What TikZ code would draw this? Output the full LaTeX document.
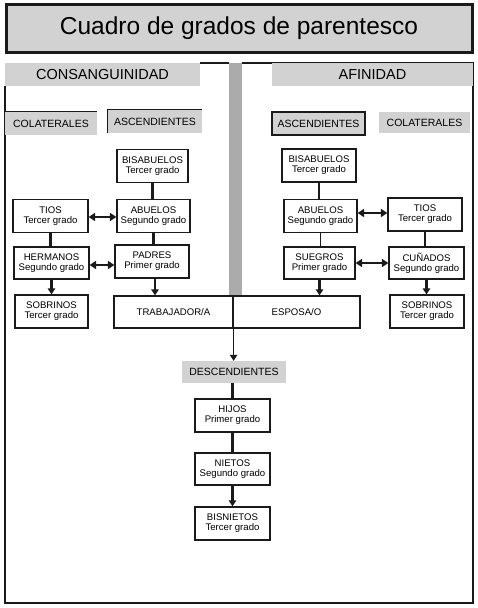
\documentclass[tikz,border=0pt]{standalone}
\usepackage{fontspec}
\setmainfont{Liberation Sans}
\usetikzlibrary{arrows.meta}
\definecolor{gris}{HTML}{D2D2D2}
\definecolor{grisbarra}{HTML}{ABABAB}
\definecolor{borde}{HTML}{1A1A1A}
\tikzset{
  caja/.style={draw=borde, line width=1.2pt, fill=white, minimum width=#1,
    minimum height=33pt, inner sep=1pt, align=center,
    font=\fontsize{9.6}{10}\selectfont},
  caja/.default=74pt,
  cabecera/.style={fill=gris, inner sep=0pt, font=\fontsize{10.5}{12}\selectfont},
  enlace/.style={draw=borde, line width=2.6pt},
  fino/.style={draw=borde, line width=1.3pt},
  punta/.style={-{Triangle[length=6pt,width=7.5pt]}},
  flecha/.style={enlace, punta},
  doble/.style={enlace, {Triangle[length=6.5pt,width=8pt]}-{Triangle[length=6.5pt,width=8pt]}},
}

\begin{document}
\begin{tikzpicture}[x=1pt, y=-1pt]
\useasboundingbox (0,0) rectangle (477,608);

% titulo
\node[draw=borde, line width=3pt, fill=gris, minimum width=466pt, minimum height=48pt,
  font=\fontsize{24.5}{28}\selectfont] (titulo) at (239,28) {Cuadro de grados de parentesco};

% marco y barra central
\fill[grisbarra] (229,63) rectangle (242,296);
\draw[draw=borde, line width=1.6pt] (200,63) -- (229,63);
\draw[draw=borde, line width=1.6pt] (242,63) -- (473,63) -- (473,603) -- (5,603) -- (5,86);

% cabeceras
\node[cabecera, minimum width=195pt, minimum height=23pt, font=\fontsize{14.5}{16}\selectfont]
  (consang) at (102.5,74.5) {CONSANGUINIDAD};
\node[cabecera, minimum width=201pt, minimum height=23pt, font=\fontsize{14.5}{16}\selectfont]
  (afin) at (372.5,74.5) {AFINIDAD};
\node[cabecera, minimum width=92pt, minimum height=23pt] (colL) at (51,123.5) {COLATERALES};
\node[cabecera, minimum width=94pt, minimum height=23pt] (ascL) at (155,121.5) {ASCENDIENTES};
\node[cabecera, minimum width=93pt, minimum height=23pt, draw=borde, line width=1.3pt]
  (ascR) at (318.5,123.5) {ASCENDIENTES};
\node[cabecera, minimum width=91pt, minimum height=21pt] (colR) at (424.5,122.5) {COLATERALES};
\draw[fino] (colL.north west) -- (colL.north east);
\draw[fino] (ascL.south west) -- (ascL.north west) -- (ascL.north east);

% consanguinidad
\node[caja=71pt] (bisL) at (152.5,166) {BISABUELOS\\Tercer grado};
\node[caja=73pt] (abuL) at (153.5,216) {ABUELOS\\Segundo grado};
\node[caja=75pt] (tiosL) at (50.5,216) {TIOS\\Tercer grado};
\node[caja=75pt, minimum height=32pt] (herm) at (51.5,263) {HERMANOS\\Segundo grado};
\node[caja] (padres) at (152,261.5) {PADRES\\Primer grado};
\node[caja=73pt] (sobL) at (51.5,311.5) {SOBRINOS\\Tercer grado};

% afinidad
\node[caja] (bisR) at (319,165.5) {BISABUELOS\\Tercer grado};
\node[caja=73pt] (abuR) at (320.5,216) {ABUELOS\\Segundo grado};
\node[caja] (tiosR) at (425,214.5) {TIOS\\Tercer grado};
\node[caja=71pt, minimum height=32pt] (suegros) at (319.5,263) {SUEGROS\\Primer grado};
\node[caja=75pt, minimum height=32pt] (cun) at (426.5,263) {CUÑADOS\\Segundo grado};
\node[caja] (sobR) at (427,311.5) {SOBRINOS\\Tercer grado};

% trabajador y conyuge
\node[caja=119pt, minimum height=32pt] (trab) at (173.5,312) {TRABAJADOR/A};
\node[caja=127pt, minimum height=32pt] (esp) at (296.5,312) {ESPOSA/O};

% descendientes
\node[cabecera, minimum width=104pt, minimum height=22pt] (desc) at (234,372) {DESCENDIENTES};
\node[caja=75pt] (hijos) at (232.5,415.5) {HIJOS\\Primer grado};
\node[caja=75pt, minimum height=32pt] (nietos) at (232.5,469) {NIETOS\\Segundo grado};
\node[caja=75pt] (bisn) at (232.5,523.5) {BISNIETOS\\Tercer grado};

% conexiones
\draw[enlace] (bisL.south) -- (bisL.south |- abuL.north);
\draw[enlace] (abuL.south) -- (abuL.south |- padres.north);
\draw[enlace] (tiosL.south) -- (tiosL.south |- herm.north);
\draw[doble] (tiosL.east |- 0,217) -- (abuL.west |- 0,217);
\draw[doble] (herm.east |- 0,265) -- (padres.west |- 0,265);
\draw[flecha] (herm.south) -- (herm.south |- sobL.north);
\draw[flecha] (padres.south) ++(3,0) -- (155,0 |- trab.north);

\draw[fino] (bisR.south) -- (bisR.south |- abuR.north);
\draw[fino] (abuR.south) -- (abuR.south |- suegros.north);
\draw[enlace] (tiosR.south) -- (tiosR.south |- cun.north);
\draw[doble] (abuR.east |- 0,213) -- (tiosR.west |- 0,213);
\draw[doble] (suegros.east |- 0,263) -- (cun.west |- 0,263);
\draw[flecha] (suegros.south) -- (suegros.south |- esp.north);
\draw[flecha] (cun.south) -- (cun.south |- sobR.north);

\draw[fino, punta] (trab.south east) -- (trab.south east |- desc.north);
\draw[enlace] (desc.south -| hijos.north) -- (hijos.north);
\draw[enlace] (hijos.south) -- (nietos.north);
\draw[flecha] (nietos.south) -- (bisn.north);
\end{tikzpicture}
\end{document}
